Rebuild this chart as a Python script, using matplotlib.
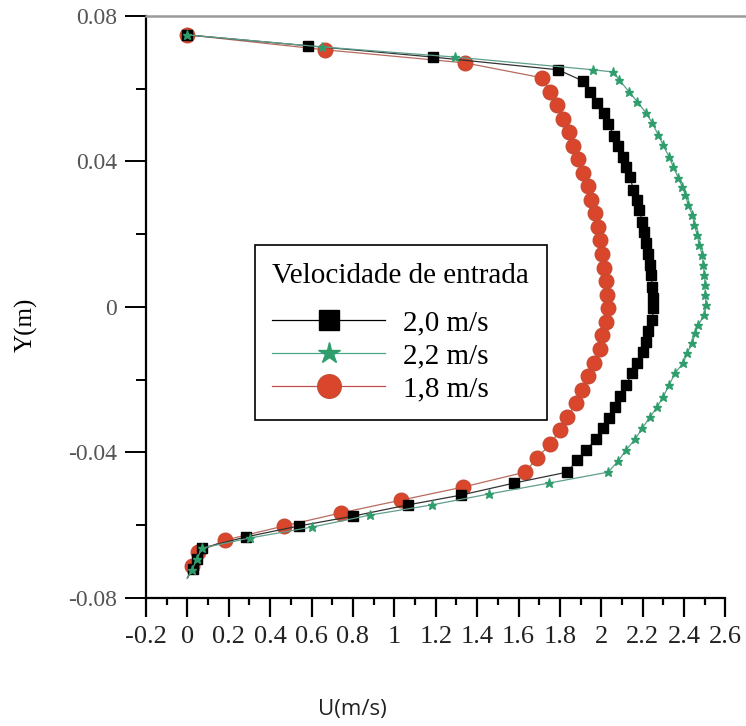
import numpy as np
import matplotlib
matplotlib.use("Agg")
import matplotlib.pyplot as plt
from matplotlib.lines import Line2D

# ----- Data -----
u_20 = [0.00, 0.583, 1.187, 1.792, 1.912, 1.946, 1.980, 2.014, 2.033, 2.062,
        2.082, 2.106, 2.121, 2.140, 2.154, 2.174, 2.183, 2.198, 2.207, 2.217,
        2.227, 2.236, 2.241, 2.246, 2.251, 2.251, 2.246, 2.227, 2.217, 2.203,
        2.174, 2.149, 2.120, 2.091, 2.067, 2.038, 2.009, 1.975, 1.927, 1.883,
        1.835, 1.579, 1.323, 1.066, 0.800, 0.539, 0.283, 0.070, 0.046, 0.027,
        0.00]
y_20 = [0.0748, 0.0718, 0.0687, 0.0652, 0.0621, 0.0591, 0.0561, 0.0533, 0.0503, 0.0470,
        0.0443, 0.0412, 0.0385, 0.0357, 0.0322, 0.0294, 0.0267, 0.0234, 0.0206, 0.0176,
        0.0146, 0.0115, 0.0088, 0.0055, 0.0025, -0.0003, -0.0036, -0.0066, -0.0096, -0.0124,
        -0.0154, -0.0181, -0.0214, -0.0245, -0.0275, -0.0305, -0.0333, -0.0363, -0.0393, -0.0421,
        -0.0454, -0.0484, -0.0517, -0.0544, -0.0575, -0.0602, -0.0632, -0.0663, -0.0693, -0.0720,
        -0.0745]

u_22 = [0.00, 0.650, 1.294, 1.961, 2.058, 2.087, 2.135, 2.174, 2.217, 2.246,
        2.275, 2.299, 2.328, 2.348, 2.372, 2.391, 2.406, 2.420, 2.440, 2.449,
        2.464, 2.473, 2.488, 2.493, 2.498, 2.502, 2.502, 2.507, 2.498, 2.469,
        2.454, 2.440, 2.415, 2.396, 2.357, 2.328, 2.299, 2.270, 2.236, 2.198,
        2.164, 2.120, 2.082, 2.033, 1.748, 1.458, 1.182, 0.883, 0.602, 0.302,
        0.070, 0.046, 0.022, 0.00]
y_22 = [0.0748, 0.0715, 0.0687, 0.0652, 0.0646, 0.0624, 0.0591, 0.0564, 0.0533, 0.0506,
        0.0473, 0.0445, 0.0412, 0.0385, 0.0355, 0.0330, 0.0308, 0.0280, 0.0253, 0.0225,
        0.0198, 0.0170, 0.0143, 0.0115, 0.0088, 0.0060, 0.0033, 0.0005, -0.0022, -0.0049,
        -0.0071, -0.0099, -0.0126, -0.0154, -0.0181, -0.0214, -0.0247, -0.0275, -0.0302, -0.0333,
        -0.0363, -0.0393, -0.0423, -0.0454, -0.0484, -0.0514, -0.0544, -0.0572, -0.0605, -0.0635,
        -0.0663, -0.0693, -0.0723, -0.0745]

u_18 = [0.00, 0.665, 1.342, 1.714, 1.753, 1.787, 1.816, 1.845, 1.864, 1.888,
        1.912, 1.937, 1.951, 1.971, 1.985, 1.995, 2.004, 2.014, 2.024, 2.029,
        2.033, 2.024, 2.004, 1.995, 1.966, 1.937, 1.908, 1.879, 1.835, 1.801,
        1.753, 1.690, 1.632, 1.332, 1.032, 0.742, 0.467, 0.181, 0.051, 0.022,
        0.00]
y_18 = [0.0748, 0.0707, 0.0671, 0.0630, 0.0591, 0.0555, 0.0517, 0.0481, 0.0443, 0.0407,
        0.0368, 0.0333, 0.0294, 0.0258, 0.0220, 0.0184, 0.0146, 0.0107, 0.0071, 0.0033,
        -0.0003, -0.0041, -0.0077, -0.0115, -0.0154, -0.0190, -0.0228, -0.0264, -0.0302, -0.0338,
        -0.0377, -0.0415, -0.0454, -0.0495, -0.0531, -0.0566, -0.0602, -0.0641, -0.0674, -0.0712,
        -0.0745]

x_ticks = [-0.2, 0, 0.2, 0.4, 0.6, 0.8, 1, 1.2, 1.4, 1.6, 1.8, 2, 2.2, 2.4, 2.6]
x_labels = ['-0.2', '0', '0.2', '0.4', '0.6', '0.8', '1', '1.2', '1.4', '1.6',
            '1.8', '2', '2.2', '2.4', '2.6']
y_ticks = [-0.08, -0.04, 0, 0.04, 0.08]
y_labels = ['-0.08', '-0.04', '0', '0.04', '0.08']

# ----- Plot -----
plt.rcParams['font.family'] = ['Liberation Serif', 'DejaVu Serif']

fig = plt.figure(figsize=(7.46, 7.26), dpi=100)
ax = fig.add_axes([0.1957, 0.1763, 0.7768, 0.8017])

red, = ax.plot(u_18, y_18, color='#b86a5e', lw=0.9, marker='o', ms=10.5,
               mfc='#d9462c', mec='#c94a33', markevery=slice(0, -1), zorder=2)
black, = ax.plot(u_20, y_20, color='#333333', lw=0.9, marker='s', ms=6.8,
                 mfc='black', mec='black', markevery=slice(0, -1), zorder=3)
green, = ax.plot(u_22, y_22, color='#5f9e8c', lw=0.9, marker='*', ms=6.5,
                 mfc='#2f9e6c', mec='#2f9e6c', markevery=slice(0, -1), zorder=4)

ax.set_xlim(-0.2, 2.6)
ax.set_ylim(-0.08, 0.08)

ax.set_xticks(x_ticks)
ax.set_xticklabels(x_labels)
ax.set_xticks(np.arange(-0.1, 2.6, 0.2), minor=True)
ax.set_yticks(y_ticks)
ax.set_yticklabels(y_labels)
ax.set_yticks([-0.06, -0.02, 0.02, 0.06], minor=True)

ax.tick_params(axis='x', which='major', direction='out', length=14, width=1.6,
               pad=6, labelsize=19, labelcolor='#222222')
ax.tick_params(axis='x', which='minor', direction='out', length=5, width=1.6)
ax.tick_params(axis='y', which='major', direction='out', length=15, width=1.4,
               pad=6, labelsize=17, labelcolor='#555555')
ax.tick_params(axis='y', which='minor', direction='out', length=7, width=1.4)

for s in ['top', 'right']:
    ax.spines[s].set_visible(False)
for s in ['left', 'bottom']:
    ax.spines[s].set_linewidth(1.6)
    ax.spines[s].set_color('black')

# grey line along the top, running to the picture edge
fig.add_artist(Line2D([0.1957, 1.0], [0.978, 0.978], transform=fig.transFigure,
                      color='#9a9a9a', lw=1.8))

ax.set_ylabel('Y(m)', fontsize=18)
ax.yaxis.set_label_coords(-0.186, 0.47)
fig.text(0.472, 0.008, 'U(m/s)', fontsize=16, family='Open Sans',
         ha='center', va='bottom', color='#222222')

leg = ax.legend([black, green, red], ['2,0 m/s', '2,2 m/s', '1,8 m/s'],
                title='Velocidade de entrada', loc='upper left',
                bbox_to_anchor=(0.188, 0.6065), borderaxespad=0,
                fontsize=21, title_fontsize=21,
                frameon=True, fancybox=False, shadow=False, framealpha=1,
                handlelength=3.85, handletextpad=0.62, labelspacing=0.22,
                borderpad=0.6, alignment='left', markerfirst=True)
# wider gap under the title than between the entries
leg._legend_box.sep = 15.5
leg.get_frame().set_edgecolor('black')
leg.get_frame().set_linewidth(1.2)
for h, ms in zip(leg.legend_handles, [15, 16, 17]):
    h.set_markersize(ms)
leg.legend_handles[0].set_color('black')
leg.legend_handles[1].set_color('#4aa88a')
leg.legend_handles[2].set_color('#c0504d')
leg.legend_handles[0].set_markerfacecolor('black')
leg.legend_handles[1].set_markerfacecolor('#2f9e6c')
leg.legend_handles[2].set_markerfacecolor('#d9462c')

fig.savefig('out.png', dpi=100)
